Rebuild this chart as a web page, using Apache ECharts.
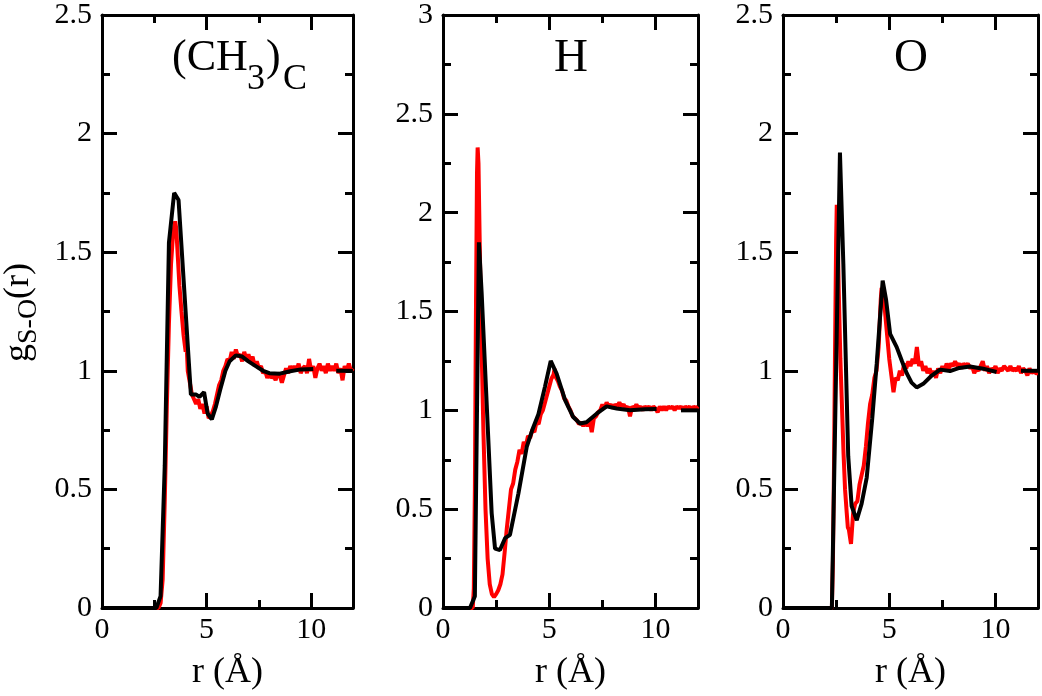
<!DOCTYPE html>
<html><head><meta charset="utf-8">
<script src="https://cdn.jsdelivr.net/npm/echarts@6/dist/echarts.min.js"></script>
<style>html,body{margin:0;padding:0;background:#fff}#c{width:1042px;height:696px}</style>
</head><body><div id="c"></div>
<script>
// ---------- data ----------
const xMin = 0, xMax = 12, xMajor = 5, xMinor = 2.5;
const yMaxes = [2.5, 3, 2.5];
const yMajor = 0.5;
const xName = 'r (Å)';

// Panel 1: (CH3)C
const redCH3 = [[0,0],[2.7,0],[2.8,0.02],[2.9,0.12],[3.0,0.45],[3.1,0.85],[3.2,1.2],[3.3,1.45],[3.4,1.58],[3.5,1.63],[3.55,1.6],[3.6,1.52],[3.7,1.36],[3.8,1.25],[3.9,1.15],[4.0,1.08],[4.05,1.1],[4.1,1.0],[4.2,0.95],[4.3,0.9],[4.4,0.88],[4.5,0.86],[4.6,0.88],[4.7,0.84],[4.8,0.86],[4.9,0.82],[5.0,0.85],[5.1,0.8],[5.2,0.81],[5.3,0.83],[5.4,0.86],[5.5,0.9],[5.6,0.94],[5.7,0.96],[5.8,1.0],[5.9,1.02],[6.0,1.05],[6.1,1.04],[6.2,1.08],[6.3,1.05],[6.4,1.09],[6.5,1.06],[6.6,1.07],[6.7,1.04],[6.8,1.08],[6.9,1.05],[7.0,1.07],[7.1,1.04],[7.2,1.06],[7.3,1.02],[7.4,1.04],[7.5,1.01],[7.6,1.02],[7.7,0.99],[7.8,1.0],[7.9,0.97],[8.0,0.99],[8.1,0.97],[8.2,0.98],[8.3,0.96],[8.4,0.99],[8.5,0.98],[8.6,0.95],[8.7,0.98],[8.8,1.01],[8.9,0.99],[9.0,1.02],[9.1,1.0],[9.2,1.02],[9.3,1.0],[9.4,1.03],[9.5,0.99],[9.6,1.01],[9.7,1.02],[9.8,0.99],[9.9,1.05],[10.0,1.0],[10.1,1.02],[10.2,0.97],[10.3,1.01],[10.4,1.03],[10.5,1.0],[10.6,1.02],[10.7,0.99],[10.8,1.03],[10.9,1.0],[11.0,1.02],[11.1,1.0],[11.2,1.03],[11.3,0.99],[11.4,1.01],[11.5,0.96],[11.6,1.02],[11.7,1.0],[11.8,1.03],[11.9,1.0],[12.0,1.01]];
const blackCH3 = [[0,0],[2.6,0],[2.8,0.05],[3.0,0.6],[3.2,1.54],[3.45,1.75],[3.66,1.72],[4.25,0.9],[4.5,0.9],[4.66,0.89],[4.88,0.91],[5.05,0.82],[5.25,0.795],[5.45,0.85],[5.65,0.92],[5.9,1.0],[6.1,1.04],[6.4,1.065],[6.7,1.06],[7.0,1.04],[7.35,1.02],[7.7,1.0],[8.0,0.99],[8.5,0.988],[9.0,0.998],[9.5,1.006],[10.1,1.008]];

// Panel 2: H
const redH = [[0,0],[1.4,0],[1.45,0.1],[1.5,0.6],[1.55,1.5],[1.6,2.2],[1.63,2.33],[1.67,2.25],[1.72,1.9],[1.8,1.4],[1.9,0.9],[2.0,0.5],[2.1,0.25],[2.2,0.12],[2.3,0.07],[2.4,0.055],[2.5,0.07],[2.6,0.09],[2.7,0.12],[2.8,0.17],[2.9,0.28],[3.0,0.4],[3.1,0.5],[3.2,0.6],[3.3,0.63],[3.4,0.7],[3.5,0.74],[3.6,0.8],[3.7,0.78],[3.8,0.84],[3.9,0.82],[4.0,0.87],[4.1,0.86],[4.2,0.9],[4.3,0.89],[4.4,0.94],[4.5,0.93],[4.6,0.98],[4.7,1.0],[4.8,1.04],[4.9,1.08],[5.0,1.12],[5.1,1.16],[5.2,1.18],[5.25,1.21],[5.3,1.17],[5.4,1.15],[5.5,1.12],[5.6,1.1],[5.7,1.06],[5.8,1.05],[5.9,1.02],[6.0,1.0],[6.1,0.97],[6.2,0.96],[6.3,0.95],[6.4,0.93],[6.5,0.94],[6.6,0.92],[6.7,0.94],[6.8,0.92],[6.9,0.95],[7.0,0.89],[7.1,0.96],[7.2,0.97],[7.3,0.99],[7.4,1.0],[7.5,1.03],[7.6,1.01],[7.7,1.04],[7.8,1.02],[7.9,1.03],[8.0,1.01],[8.1,1.03],[8.2,1.02],[8.3,1.04],[8.4,1.02],[8.5,1.03],[8.6,1.01],[8.7,1.02],[8.8,0.97],[8.9,1.02],[9.0,1.01],[9.1,1.03],[9.2,1.01],[9.3,1.02],[9.4,1.0],[9.5,1.02],[9.6,1.01],[9.7,1.02],[9.8,1.0],[9.9,1.02],[10.0,1.01],[10.1,0.99],[10.2,1.02],[10.3,1.0],[10.4,1.02],[10.5,1.0],[10.6,1.02],[10.7,1.01],[10.8,1.02],[10.9,1.0],[11.0,1.02],[11.1,1.01],[11.2,1.02],[11.3,1.0],[11.4,1.02],[11.5,1.01],[11.6,1.02],[11.7,1.0],[11.8,1.02],[11.9,1.01],[12.0,1.02]];
const blackH = [[0,0],[1.27,0],[1.5,0.06],[1.69,1.85],[1.82,1.59],[2.29,0.48],[2.45,0.3],[2.68,0.293],[2.92,0.353],[3.15,0.37],[3.55,0.58],[3.94,0.815],[4.2,0.9],[4.49,0.98],[4.8,1.12],[5.07,1.25],[5.35,1.185],[5.75,1.05],[6.13,0.966],[6.45,0.933],[6.75,0.94],[7.23,0.983],[7.7,1.02],[8.17,1.009],[8.8,1.0],[9.5,1.005],[10.05,1.007]];

// Panel 3: O
const redO = [[0,0],[2.3,0],[2.35,0.2],[2.4,0.6],[2.45,1.1],[2.5,1.55],[2.53,1.7],[2.57,1.6],[2.62,1.35],[2.7,1.05],[2.76,0.89],[2.85,0.65],[2.92,0.5],[3.0,0.4],[3.05,0.34],[3.1,0.33],[3.15,0.3],[3.2,0.27],[3.3,0.4],[3.4,0.44],[3.5,0.45],[3.6,0.52],[3.7,0.56],[3.8,0.6],[3.9,0.68],[4.0,0.78],[4.1,0.86],[4.2,0.9],[4.3,0.97],[4.4,1.0],[4.5,1.1],[4.55,1.2],[4.6,1.3],[4.64,1.35],[4.7,1.32],[4.8,1.25],[4.9,1.15],[5.0,1.05],[5.1,0.98],[5.2,0.91],[5.3,0.97],[5.4,0.96],[5.5,1.0],[5.6,0.98],[5.7,1.03],[5.8,1.01],[5.9,1.04],[6.0,1.02],[6.1,1.05],[6.2,1.03],[6.3,1.1],[6.4,1.02],[6.5,1.04],[6.6,1.0],[6.7,1.02],[6.8,0.99],[6.9,1.01],[7.0,0.98],[7.1,1.0],[7.2,0.97],[7.3,1.01],[7.4,0.99],[7.5,1.02],[7.6,1.0],[7.7,1.03],[7.8,1.01],[7.9,1.03],[8.0,1.02],[8.1,1.04],[8.2,1.02],[8.3,1.03],[8.4,1.01],[8.5,1.03],[8.6,1.02],[8.7,1.03],[8.8,1.01],[8.9,1.02],[9.0,0.99],[9.1,1.01],[9.2,1.0],[9.3,1.02],[9.4,1.04],[9.5,1.0],[9.6,1.02],[9.7,0.99],[9.8,1.01],[9.9,1.0],[10.0,1.02],[10.1,0.99],[10.2,1.01],[10.3,1.0],[10.4,1.02],[10.5,1.01],[10.6,1.0],[10.7,1.02],[10.8,1.0],[10.9,1.01],[11.0,1.0],[11.1,1.02],[11.2,0.99],[11.3,1.01],[11.4,1.0],[11.5,0.98],[11.6,1.01],[11.7,0.99],[11.8,1.0],[11.9,0.99],[12.0,0.99]];
const blackO = [[0,0],[2.3,0],[2.68,1.92],[2.84,1.45],[3.07,0.64],[3.23,0.43],[3.47,0.37],[3.7,0.44],[3.94,0.55],[4.2,0.8],[4.41,1.03],[4.69,1.38],[4.85,1.3],[5.04,1.156],[5.35,1.1],[5.6,1.04],[5.82,0.99],[6.05,0.95],[6.29,0.93],[6.6,0.945],[7.0,0.98],[7.39,1.005],[7.86,0.999],[8.3,1.012],[8.8,1.018],[9.42,1.009],[10.05,0.995]];

// short black segment at the far right of each panel
const blackTail = [[11.2,1],[12,1]];

const redSeries = [redCH3, redH, redO];
const blackSeries = [blackCH3, blackH, blackO];

// ---------- layout & style ----------
const FONT = 'Liberation Serif';
const grids = [
  {left:102, top:14, width:251, height:594},
  {left:443, top:14, width:255, height:594},
  {left:783, top:14, width:255, height:594}
];
const lineSt = {color:'#000', width:3};

const xAxis = [], yAxis = [], series = [];
grids.forEach((g, i) => {
  const base = {gridIndex:i, type:'value', min:xMin, max:xMax, splitLine:{show:false}};
  xAxis.push(Object.assign({}, base, {
    position:'bottom', interval:xMajor,
    name:xName, nameLocation:'middle', nameGap:47,
    nameTextStyle:{fontFamily:FONT, fontSize:36, color:'#000'},
    axisLine:{show:true, onZero:false, lineStyle:lineSt},
    axisTick:{show:true, inside:true, length:15, lineStyle:lineSt},
    axisLabel:{show:true, fontFamily:FONT, fontSize:30, color:'#000', margin:7, showMaxLabel:false}
  }));
  xAxis.push(Object.assign({}, base, {
    position:'bottom', interval:xMinor,
    axisLine:{show:false, onZero:false},
    axisTick:{show:true, inside:true, length:8, lineStyle:lineSt},
    axisLabel:{show:false}
  }));
  xAxis.push(Object.assign({}, base, {
    position:'top', interval:xMajor,
    axisLine:{show:true, onZero:false, lineStyle:lineSt},
    axisTick:{show:true, inside:true, length:15, lineStyle:lineSt},
    axisLabel:{show:false}
  }));
  xAxis.push(Object.assign({}, base, {
    position:'top', interval:xMinor,
    axisLine:{show:false, onZero:false},
    axisTick:{show:true, inside:true, length:8, lineStyle:lineSt},
    axisLabel:{show:false}
  }));
  const ybase = {gridIndex:i, type:'value', min:0, max:yMaxes[i], interval:yMajor,
    splitLine:{show:false}, minorSplitLine:{show:false},
    axisLine:{show:true, onZero:false, lineStyle:lineSt},
    axisTick:{show:true, inside:true, length:15, lineStyle:lineSt},
    minorTick:{show:true, splitNumber:2, length:8, lineStyle:lineSt}};
  yAxis.push(Object.assign({}, ybase, {
    position:'left',
    axisLabel:{show:true, fontFamily:FONT, fontSize:30, color:'#000', margin:10}
  }));
  yAxis.push(Object.assign({}, ybase, {position:'right', axisLabel:{show:false}}));

  series.push({type:'line', xAxisIndex:4*i, yAxisIndex:2*i, data:redSeries[i],
    showSymbol:false, symbol:'none', lineStyle:{color:'#ff0000', width:4}, z:2, silent:true});
  series.push({type:'line', xAxisIndex:4*i, yAxisIndex:2*i, data:blackSeries[i],
    showSymbol:false, symbol:'none', lineStyle:{color:'#000', width:4}, z:3, silent:true});
  series.push({type:'line', xAxisIndex:4*i, yAxisIndex:2*i, data:blackTail,
    showSymbol:false, symbol:'none', lineStyle:{color:'#000', width:4}, z:3, silent:true});
});

function txt(text, x, y, size, align) {
  return {type:'text', x:x, y:y, silent:true,
    style:{text:text, fontFamily:FONT, fontSize:size, fill:'#000', align:align||'left', verticalAlign:'middle'}};
}

const graphic = [
  // panel titles
  txt('(CH', 172, 58, 44),
  txt('3', 247, 80, 36),
  txt(')', 266, 58, 44),
  txt('C', 283, 80, 36),
  txt('H', 571, 59, 47, 'center'),
  txt('O', 911, 59, 47, 'center'),
  // rotated y-axis name
  {type:'group', x:19, y:362, rotation:Math.PI/2, children:[
    txt('g', 0, 0, 36),
    txt('S-O', 18, 10, 28),
    txt('(r)', 63, 0, 36)
  ]}
];

const chart = echarts.init(document.getElementById('c'), null, {renderer:'canvas'});
chart.setOption({
  backgroundColor:'#fff',
  animation:false,
  grid:grids,
  xAxis:xAxis,
  yAxis:yAxis,
  series:series,
  graphic:graphic
});
</script>
</body></html>
